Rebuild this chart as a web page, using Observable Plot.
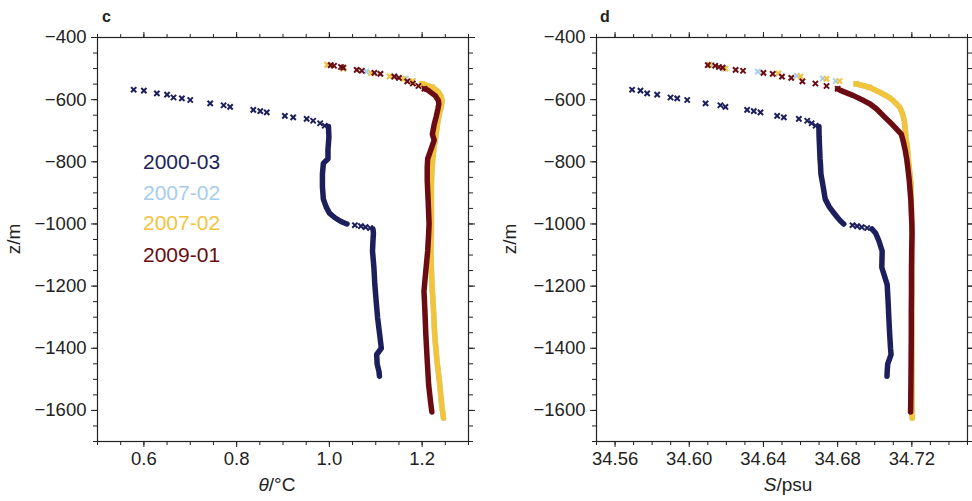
<!DOCTYPE html>
<html><head><meta charset="utf-8">
<script src="https://cdn.jsdelivr.net/npm/d3@7"></script>
<script src="https://cdn.jsdelivr.net/npm/@observablehq/plot@0.6"></script>
<style>
body{margin:0;background:#fff;}
#wrap{display:flex;width:972px;height:501px;}
#wrap svg{overflow:visible;}
</style></head><body><div id="wrap"></div>
<script>
// ---------- legend / series ----------
const seriesNames  = ["2000-03", "2007-02", "2007-02", "2009-01"];
const seriesColors = ["#1c1f5c", "#a7cdec", "#f2c43c", "#6a0c12"];

// ---------- 2000-03 (navy) ----------
const navyMark1Z = [-568, -571, -580, -584, -593, -596, -601, -612, -618, -623, -633, -637, -641, -652, -657, -662, -668, -676, -684];
const navyMark1T = [0.578, 0.600, 0.628, 0.650, 0.664, 0.682, 0.700, 0.743, 0.772, 0.786, 0.836, 0.851, 0.865, 0.904, 0.922, 0.951, 0.965, 0.980, 0.990];
const navyMark1S = [34.5692, 34.5737, 34.5773, 34.5827, 34.5899, 34.5935, 34.5989, 34.6088, 34.6168, 34.6195, 34.6312, 34.6348, 34.6384, 34.6474, 34.6510, 34.6591, 34.6636, 34.6660, 34.6681];
const navyLine1Z = [-686, -720, -760, -790, -805, -840, -880, -920, -945, -965, -980, -992, -1000];
const navyLine1T = [0.998, 0.999, 0.997, 0.997, 0.987, 0.985, 0.985, 0.987, 0.993, 1.000, 1.012, 1.025, 1.038];
const navyLine1S = [34.6699, 34.6700, 34.6703, 34.6705, 34.6707, 34.6710, 34.6722, 34.6733, 34.6755, 34.6780, 34.6800, 34.6818, 34.6833];
const navyMark2Z = [-1004, -1007, -1010, -1013];
const navyMark2T = [1.055, 1.068, 1.078, 1.088];
const navyMark2S = [34.6880, 34.6905, 34.6930, 34.6959];
const navyLine2Z = [-1016, -1030, -1054, -1087, -1140, -1195, -1250, -1302, -1350, -1400, -1420, -1450, -1475, -1490];
const navyLine2T = [1.094, 1.095, 1.094, 1.093, 1.096, 1.098, 1.101, 1.104, 1.108, 1.112, 1.102, 1.103, 1.107, 1.108];
const navyLine2S = [34.6985, 34.7005, 34.7022, 34.7040, 34.7038, 34.7067, 34.7072, 34.7076, 34.7080, 34.7085, 34.7088, 34.7070, 34.7067, 34.7066];

// ---------- 2007-02 (light blue) ----------
const lightMarkZ = [-488, -500, -510, -516, -523, -532, -540];
const lightMarkT = [0.997, 1.030, 1.080, 1.110, 1.140, 1.165, 1.180];
const lightMarkS = [34.612, 34.6186, 34.637, 34.648, 34.658, 34.672, 34.679];

// ---------- 2007-02 (yellow) ----------
const yellowMarkZ = [-488, -500, -515, -525, -533, -540, -549, -560];
const yellowMarkT = [0.995, 1.030, 1.090, 1.130, 1.160, 1.180, 1.200, 1.222];
const yellowMarkS = [34.611, 34.6195, 34.648, 34.660, 34.674, 34.681, 34.690, 34.697];
const yellowLineZ = [-549, -560, -577, -590, -603, -625, -645, -670, -700, -722, -750, -787, -830, -870, -950, -1020, -1087, -1150, -1216, -1290, -1356, -1440, -1517, -1580, -1625];
const yellowLineT = [1.200, 1.222, 1.236, 1.241, 1.243, 1.241, 1.237, 1.234, 1.231, 1.229, 1.226, 1.223, 1.221, 1.220, 1.220, 1.220, 1.219, 1.220, 1.222, 1.225, 1.227, 1.232, 1.238, 1.242, 1.246];
const yellowLineS = [34.690, 34.697, 34.703, 34.707, 34.710, 34.7135, 34.715, 34.716, 34.7165, 34.7168, 34.7175, 34.718, 34.7188, 34.7195, 34.7198, 34.7200, 34.7200, 34.7200, 34.7200, 34.7200, 34.7200, 34.7200, 34.7200, 34.7200, 34.7202];

// ---------- 2009-01 (dark red) ----------
const redMarkZ = [-489, -491, -495, -497, -504, -507, -514, -517, -526, -530, -541, -548, -556, -565];
const redMarkT = [1.003, 1.010, 1.025, 1.030, 1.059, 1.070, 1.097, 1.110, 1.140, 1.150, 1.168, 1.180, 1.192, 1.205];
const redMarkS = [34.610, 34.614, 34.616, 34.618, 34.625, 34.629, 34.640, 34.645, 34.650, 34.655, 34.661, 34.668, 34.674, 34.680];
const redLineZ = [-565, -570, -587, -603, -614, -630, -657, -680, -711, -730, -765, -790, -818, -860, -926, -1000, -1033, -1087, -1150, -1216, -1280, -1356, -1440, -1517, -1570, -1605];
const redLineT = [1.205, 1.213, 1.228, 1.235, 1.236, 1.234, 1.230, 1.226, 1.222, 1.226, 1.218, 1.212, 1.211, 1.211, 1.213, 1.215, 1.214, 1.212, 1.208, 1.204, 1.206, 1.208, 1.211, 1.214, 1.218, 1.221];
const redLineS = [34.680, 34.6815, 34.6885, 34.6940, 34.6975, 34.7010, 34.7055, 34.7095, 34.7143, 34.7152, 34.7165, 34.7172, 34.7178, 34.7186, 34.7195, 34.7200, 34.7201, 34.7199, 34.7198, 34.7198, 34.7197, 34.7197, 34.7196, 34.7195, 34.7194, 34.7193];

// ---------- axes ----------
const yDomain = [-1700, -400];
const yMajor = [-1600, -1400, -1200, -1000, -800, -600, -400];
const yMinor = d3.range(-1700, -399, 50);
const thetaDomain = [0.5, 1.3];
const thetaMajor = [0.6, 0.8, 1.0, 1.2];
const thetaMinor = [0.5, 0.55, 0.6, 0.65, 0.7, 0.75, 0.8, 0.85, 0.9, 0.95, 1.0, 1.05, 1.1, 1.15, 1.2, 1.25, 1.3];
const salDomain = [34.55, 34.75];
const salMajor = [34.56, 34.60, 34.64, 34.68, 34.72];
const salMinor = [34.55, 34.56, 34.57, 34.58, 34.59, 34.60, 34.61, 34.62, 34.63, 34.64, 34.65, 34.66, 34.67, 34.68, 34.69, 34.70, 34.71, 34.72, 34.73, 34.74, 34.75];

// ---------- build ----------
const drawOrder = [
  {color: seriesColors[1], lines: [{z: yellowLineZ, t: yellowLineT, s: yellowLineS}], marks: [{z: lightMarkZ, t: lightMarkT, s: lightMarkS}]},
  {color: seriesColors[2], lines: [{z: yellowLineZ, t: yellowLineT, s: yellowLineS}], marks: [{z: yellowMarkZ, t: yellowMarkT, s: yellowMarkS}]},
  {color: seriesColors[0], lines: [{z: navyLine1Z, t: navyLine1T, s: navyLine1S}, {z: navyLine2Z, t: navyLine2T, s: navyLine2S}],
                           marks: [{z: navyMark1Z, t: navyMark1T, s: navyMark1S}, {z: navyMark2Z, t: navyMark2T, s: navyMark2S}]},
  {color: seriesColors[3], lines: [{z: redLineZ, t: redLineT, s: redLineS}], marks: [{z: redMarkZ, t: redMarkT, s: redMarkS}]}
];

const FONT = "'Liberation Sans', Arial, Helvetica, sans-serif";
const INK = "#222";

function rows(seg, key) { return seg.z.map((z, i) => ({z, v: seg[key][i]})); }

function panel(o) {
  const marks = [];
  for (const sr of drawOrder) {
    for (const L of sr.lines)
      marks.push(Plot.line(rows(L, o.key), {x: "v", y: "z", stroke: sr.color, strokeWidth: 5.5, strokeLinejoin: "round", strokeLinecap: "round"}));
    for (const M of sr.marks)
      marks.push(Plot.dot(rows(M, o.key), {x: "v", y: "z", symbol: "times", r: 2.5, stroke: sr.color, strokeWidth: 2}));
  }
  const none = () => "";
  marks.push(
    Plot.frame({stroke: INK, strokeWidth: 1.2}),
    Plot.axisX(o.major, {anchor: "bottom", tickSize: 6, tickPadding: 4, tickFormat: o.fmt, label: null}),
    Plot.axisX(o.minor, {anchor: "bottom", tickSize: 4, tickFormat: none, label: null}),
    Plot.axisX(o.major, {anchor: "top", tickSize: 6, tickFormat: none, label: null}),
    Plot.axisX(o.minor, {anchor: "top", tickSize: 4, tickFormat: none, label: null}),
    Plot.axisY(yMajor, {anchor: "left", tickSize: 6, tickPadding: 5, tickFormat: d3.format("d"), label: null}),
    Plot.axisY(yMinor, {anchor: "left", tickSize: 4, tickFormat: none, label: null}),
    Plot.axisY(yMajor, {anchor: "right", tickSize: 6, tickFormat: none, label: null}),
    Plot.axisY(yMinor, {anchor: "right", tickSize: 4, tickFormat: none, label: null})
  );
  const svg = Plot.plot({
    width: 486, height: 501,
    marginLeft: o.ml, marginRight: o.mr, marginTop: 37, marginBottom: 60,
    x: {domain: o.domain}, y: {domain: yDomain},
    style: {fontFamily: FONT, fontSize: "18.5px", color: INK, background: "#fff"},
    marks
  });
  const s = d3.select(svg);
  s.append("text").attr("x", o.letterX).attr("y", 22).attr("text-anchor", "start").attr("font-weight", "bold")
    .attr("font-size", 16).attr("fill", INK).text(o.letter);
  s.append("text").attr("transform", `translate(${o.ylabX},239) rotate(-90)`).attr("text-anchor", "middle")
    .attr("font-size", 19).attr("fill", INK).text("z/m");
  const xl = s.append("text").attr("x", o.xlabX).attr("y", 491).attr("text-anchor", "middle")
    .attr("font-size", 19).attr("fill", INK);
  xl.append("tspan").attr("font-style", "italic").text(o.xsym);
  xl.append("tspan").text(o.xunit);
  if (o.legend) {
    const base = [169, 200, 230, 262];
    seriesNames.forEach((n, i) => {
      s.append("text").attr("x", 143).attr("y", base[i]).attr("text-anchor", "start").attr("font-size", 21)
        .attr("fill", seriesColors[i]).text(n);
    });
  }
  return svg;
}

const wrap = document.getElementById("wrap");
wrap.appendChild(panel({key: "t", domain: thetaDomain, major: thetaMajor, minor: thetaMinor, fmt: d3.format(".1f"),
  ml: 97, mr: 18, letter: "c", letterX: 102, ylabX: 20, xlabX: 277, xsym: "θ", xunit: "/°C", legend: true}));
wrap.appendChild(panel({key: "s", domain: salDomain, major: salMajor, minor: salMinor, fmt: d3.format(".2f"),
  ml: 110, mr: 5, letter: "d", letterX: 114, ylabX: 30, xlabX: 302, xsym: "S", xunit: "/psu", legend: false}));
</script>
</body></html>
